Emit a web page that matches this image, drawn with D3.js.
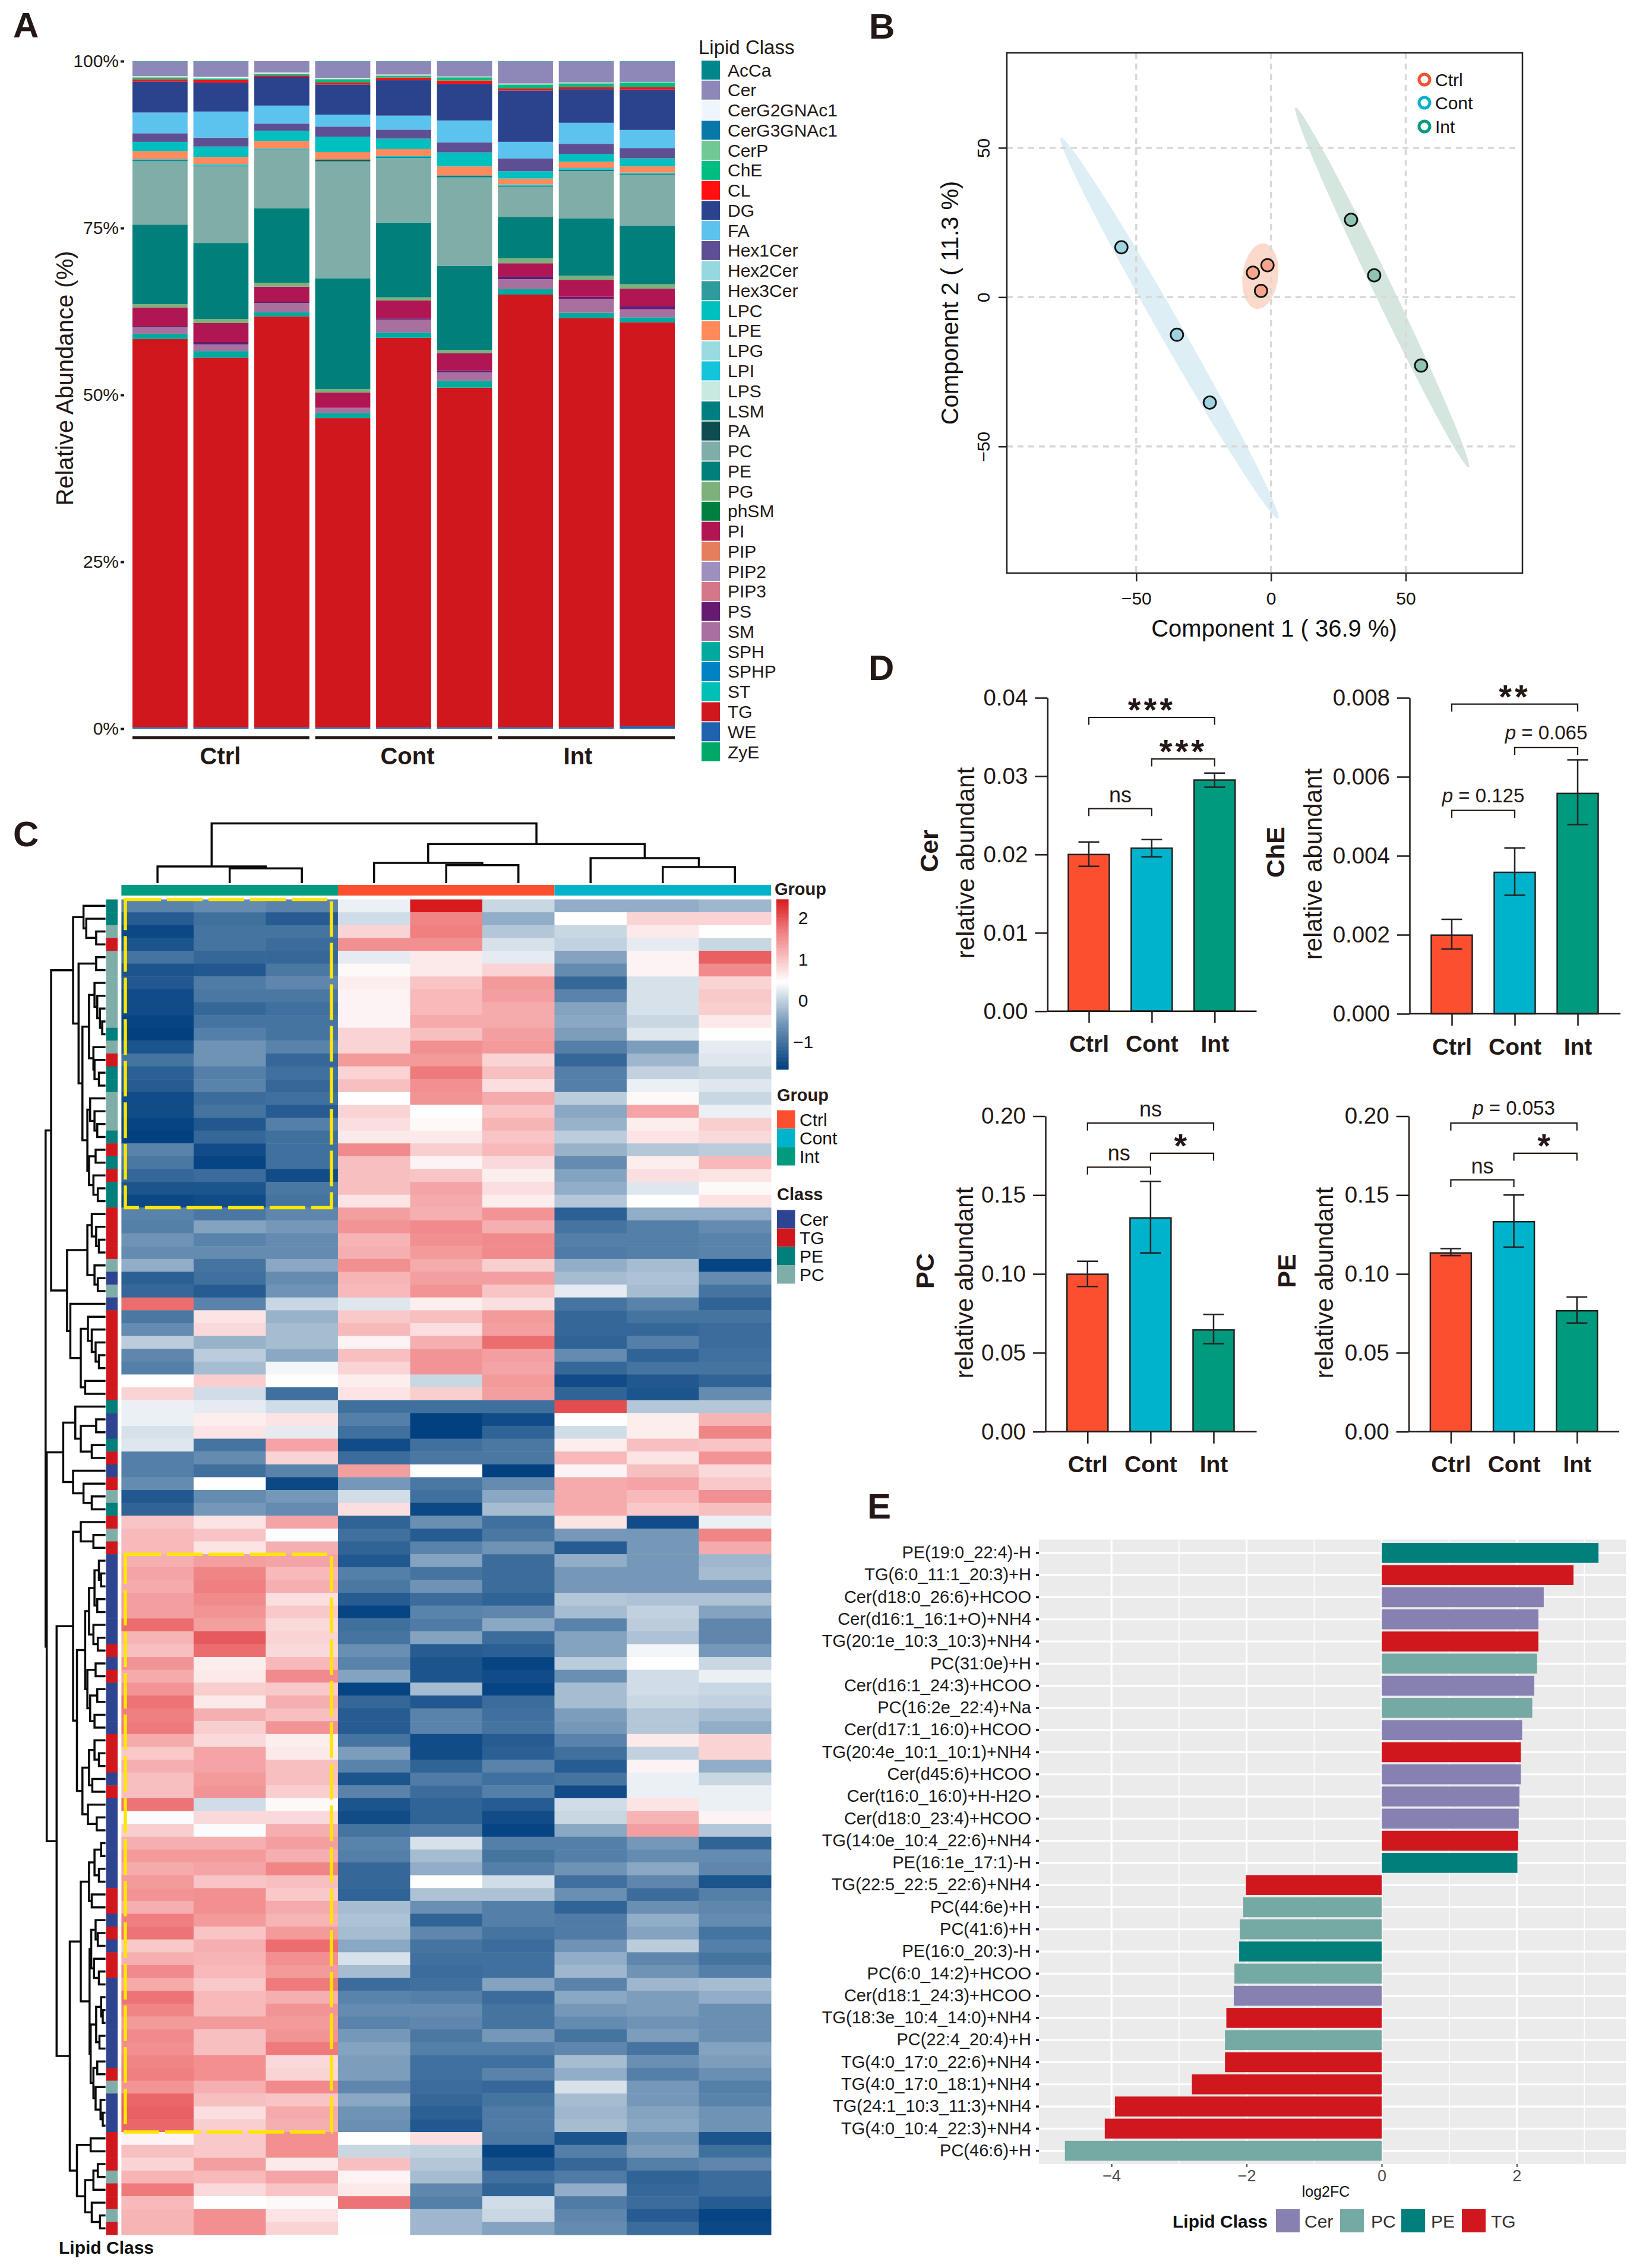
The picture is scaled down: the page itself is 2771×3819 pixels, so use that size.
<!DOCTYPE html>
<html>
<head>
  <meta charset="utf-8">
  <title>Lipidomics figure</title>
  <style>
    body { margin: 0; padding: 0; background-color: #fff; }
    svg { display: block; font-family: "Liberation Sans", Arial, sans-serif; }
  </style>
</head>
<body>
  <svg id="fig" width="2771" height="3819"></svg>
  <script src="https://d3js.org/d3.v7.min.js"></script>
  <script>
    var ink = "#231815";

    // ---- panel A data
    var sampleIds = ["C1", "C2", "C3", "K1", "K2", "K3", "I1", "I2", "I3"];
    var lipidClasses = ["AcCa", "Cer", "CerG2GNAc1", "CerG3GNAc1", "CerP", "ChE", "CL", "DG", "FA", "Hex1Cer", "Hex2Cer", "Hex3Cer", "LPC", "LPE", "LPG", "LPI", "LPS", "LSM", "PA", "PC", "PE", "PG", "phSM", "PI", "PIP", "PIP2", "PIP3", "PS", "SM", "SPH", "SPHP", "ST", "TG", "WE", "ZyE"];
    var lipidColors = ["#00868B", "#8E88B8", "#EEF5FC", "#0878A8", "#70C994", "#00BE82", "#FF1010", "#2A438C", "#5CC3EF", "#5E4F93", "#96D8E0", "#2E9C9C", "#00BFBF", "#FF8A5C", "#9ADBE0", "#14C4DA", "#C8E8E0", "#007F80", "#0E4D4F", "#7FADA8", "#007F7B", "#7CB17C", "#008040", "#B01652", "#E57E5E", "#9D90BF", "#D47788", "#661A70", "#A8709F", "#00AA9E", "#0083C4", "#00BFB5", "#CF171D", "#1F63AF", "#00A968"];
    // one line per lipid class, one value per sample (percent)
    var barPct = [
      [.05, .05, 0, .05, .05, .05, .05, .05, .05],
      [2.2, 2.3, 1.7, 2.5, 1.95, 2.25, 3.3, 3.15, 3.05],
      [.1, .2, .15, .1, .1, .1, .1, .1, .05],
      [0, 0, 0, 0, 0, 0, 0, 0, 0],
      [.1, .05, .05, .1, .1, .1, .1, .05, .05],
      [.25, .2, .25, .45, .25, .4, .55, .55, .7],
      [.35, .4, .25, .3, .4, .5, .3, .3, .35],
      [4.65, 4.35, 4.25, 4.5, 5.3, 5.5, 7.7, 5.05, 6.05],
      [3.1, 3.9, 2.7, 1.8, 2.1, 3.3, 2.5, 3.15, 2.7],
      [1.3, 1.35, 1.05, 1.5, 1.35, 1.5, 1.9, 1.5, 1.55],
      [0, 0, 0, 0, 0, 0, 0, 0, 0],
      [0, 0, 0, 0, 0, 0, 0, 0, 0],
      [1.4, 1.55, 1.55, 2.3, 1.55, 2.1, 1.1, 1.2, 1.2],
      [1.2, 1.1, 1.1, 1.1, 1.05, 1.35, .9, .95, .95],
      [0, 0, 0, 0, 0, 0, 0, 0, 0],
      [.15, .2, .1, 0, .2, 0, .2, .25, .2],
      [0, 0, 0, 0, 0, 0, 0, 0, 0],
      [.15, .1, .05, .1, .1, .3, .1, .2, .1],
      [0, 0, 0, .2, 0, 0, 0, 0, 0],
      [9.5, 11.5, 8.8, 17.5, 9.65, 13.3, 4.55, 7.1, 7.65],
      [11.9, 11.4, 11.15, 16.6, 11.2, 12.6, 6.2, 8.6, 8.75],
      [.5, .6, .6, .5, .45, .5, .75, .6, .65],
      [0, 0, 0, 0, 0, 0, 0, 0, 0],
      [2.8, 2.85, 2.25, 2.3, 2.7, 2.55, 1.95, 2.55, 2.6],
      [0, 0, 0, 0, 0, 0, 0, 0, 0],
      [0, 0, 0, 0, 0, 0, 0, 0, 0],
      [0, 0, 0, 0, 0, 0, 0, 0, 0],
      [.15, .35, .2, .05, .2, .3, .45, .3, .5],
      [1, 1, 1.4, .75, 1.9, 1.3, 1.5, 2.1, 1.2],
      [.8, 1, .6, .75, .8, 1, .8, .8, .75],
      [0, 0, 0, 0, 0, 0, 0, 0, 0],
      [0, 0, 0, 0, 0, 0, 0, 0, 0],
      [58.2, 55.4, 61.5, 46.3, 58.3, 51, 64.9, 61.4, 60.5],
      [.2, .2, .2, .2, .2, .2, .2, .2, .35],
      [0, 0, 0, 0, 0, 0, 0, 0, 0]
    ];
    var pctTicks = [0, 0.25, 0.5, 0.75, 1];

    // ---- shared groups
    var groups = ["Ctrl", "Cont", "Int"];
    var groupColors = ["#FC4F30", "#00B3CC", "#009A7E"];

    // ---- panel B data
    var pcaCtrl = [[-6.7, 8.2], [-1.3, 10.7], [-3.7, 2.1]];
    var pcaCont = [[-55.5, 16.7], [-34.9, -12.6], [-22.7, -35.3]];
    var pcaInt = [[29.7, 25.9], [38.3, 7.3], [55.7, -22.9]];
    var pcaTicks = [-50, 0, 50];
    var ellipseTips = [[[-2.5, 18], [-5.4, -3.9]], [[-78, 53.4], [2.7, -74.2]], [[9.1, 63.5], [73.4, -57]]];
    var ellipseFill = ["#FBDACB", "#DDEEF5", "#D5E6DF"];
    var pointFill = ["#F7A58A", "#A0D3E0", "#8FC4B4"];

    // ---- panel C data (columns: Int, Ctrl, Cont)
    var heatGroups = ["Int", "Ctrl", "Cont"];
    var heatRows = [
      [-.8, -.7, -.8, .3, 2.45, .05, -.35, -.35, -.25],
      [-1.3, -1.05, -1.3, .1, 1.6, -.35, .45, .85, .85],
      [-1.55, -1, -1, .85, 1.65, -.1, .05, .65, .45],
      [-1.4, -1, -1.1, 1.5, 1.5, .15, 0, .25, .05],
      [-1, -1.15, -1.15, .25, .65, .25, -.45, .55, 1.9],
      [-1.4, -1.35, -.95, .5, .65, .85, -.7, .55, 1.55],
      [-1.35, -.9, -.75, .6, 1, 1.4, -1.15, .15, .85],
      [-1.5, -.95, -.95, .55, 1.1, 1.35, -.8, .15, .95],
      [-1.5, -1.15, -1.05, .55, 1.1, 1.25, -.45, .15, .9],
      [-1.6, -1, -1, .55, 1.25, 1.25, -.4, .05, .65],
      [-1.65, -.85, -1, .85, 1.05, 1.35, -.5, .2, .45],
      [-1.4, -.6, -.8, .85, 1.5, 1.4, -.85, -.5, .25],
      [-1, -.6, -1.15, 1.4, 1.4, .85, -1.15, -.25, .2],
      [-1.25, -.85, -1.05, .85, 1.7, 1.05, -.85, 0, .05],
      [-1.3, -.8, -1.15, 1.05, 1.5, .75, -.85, .3, .2],
      [-1.5, -1.1, -1.05, .45, 1.45, 1.25, -.05, .5, .05],
      [-1.5, -1, -1.3, .85, .45, 1, -.4, 1.3, .3],
      [-1.6, -1.35, -.85, .75, .5, 1.15, -.3, .6, .9],
      [-1.65, -1.15, -1.05, .65, .65, 1, -.05, .7, .8],
      [-.8, -1.5, -1.05, 1.55, .9, 1.1, -.3, -.1, -.05],
      [-.95, -1.6, -1.05, 1.05, .55, .8, -.7, .6, 1.1],
      [-1.15, -1.1, -1.5, 1.05, 1, .6, -.45, .75, .7],
      [-1.4, -1.4, -.95, 1.05, 1.3, .75, -.35, .2, .5],
      [-1.55, -1.5, -1, .7, 1.25, .6, -.1, .45, .7],
      [-.8, -.95, -.75, 1.35, 1.2, 1.45, -1.25, -.35, -.35],
      [-.85, -.45, -.55, 1.45, 1.55, 1.2, -1, -.85, -.7],
      [-.6, -.8, -.7, 1.15, 1.5, 1.55, -.85, -.85, -.8],
      [-.7, -.7, -.7, 1.2, 1.4, 1.55, -.9, -.85, -.8],
      [-.35, -1, -.4, 1.5, 1.25, .9, -.35, -.2, -1.6],
      [-1.25, -1.05, -.7, 1.15, 1.35, 1.35, -.2, -.15, -.7],
      [-1.15, -1.3, -.6, 1.1, 1.45, 1, .25, -.2, -1],
      [1.8, -.8, .05, .2, .6, .75, -1, -.8, -1.2],
      [-.95, .7, -.3, .95, 1.05, 1.4, -1.15, -1, -1],
      [-.7, .8, -.2, 1.1, .75, 1.35, -1.15, -1.15, -1.1],
      [-.05, -.3, -.2, .55, 1.2, 1.8, -1.2, -.85, -1.1],
      [-.75, -.05, -.4, 1.05, 1.45, 1.35, -.7, -1.2, -1.05],
      [-.85, -.2, .35, .85, 1.45, 1.3, -1.15, -1, -1],
      [.45, .9, .45, .6, .05, 1.4, -1.5, -1.35, -1.2],
      [.85, .1, -1.05, .7, .9, 1.35, -1.2, -1.4, -.7],
      [.3, .25, .1, -1.05, -1.05, -1.05, 2.05, -.1, -.1],
      [.3, .6, .7, -.85, -1.65, -1.5, .45, .6, 1.15],
      [.15, .7, .25, -1.05, -1.65, -1.2, .1, .6, 1.6],
      [.2, -1, 1.3, -1.5, -1.05, -.95, .6, 1.05, 1],
      [-.85, -.7, .85, -1.1, -.95, -.95, 1.1, .7, 1.45],
      [-.85, -1.05, -.8, 1.35, .45, -1.65, .55, 1.05, .8],
      [-.7, .45, -1.55, -.55, -.95, -.7, 1.25, 1.3, .95],
      [-1.35, -.7, -.55, .1, -1.05, -.4, 1.25, 1.1, 1.5],
      [-1.2, -.55, -.7, .75, -1.55, -.2, 1.25, .95, 1.05],
      [1, .7, 1.3, -1.2, -.65, -1.05, .7, -1.5, .3],
      [1.1, 1, .45, -1.05, -1.3, -.95, -.55, -.55, 1.6],
      [1.1, .7, 1.2, -1.2, -.8, -.6, -1.3, -.55, 1.25],
      [1.2, 1.35, 1.3, -1.35, -.45, -1.1, -.35, -.55, -.25],
      [1.3, 1.6, 1.1, -.85, -1, -1.1, -.55, -.55, -.2],
      [1.25, 1.65, 1.2, -.95, -.6, -1.1, -.55, -.55, -.55],
      [1.35, 1.55, .75, -1.3, -1.1, -1.2, -.1, -.15, -.15],
      [1.35, 1.45, .95, -1.6, -.8, -.75, -.2, 0, -.45],
      [1.8, 1.35, .8, -1.05, -.9, -.4, -.8, -.05, -.75],
      [1.15, 1.95, .85, -1, -.45, -1.1, -.45, -.15, -.75],
      [1.05, 1.8, .8, -.65, -1.3, -1.25, -.45, .35, -.55],
      [1.45, .6, 1.1, -.8, -1.4, -1.6, -.05, .45, .05],
      [1.25, .65, 1.55, -.45, -1.4, -1.5, -.65, .1, .3],
      [1.45, .9, .95, -1.6, -.2, -1.6, -.2, .1, .05],
      [1.75, .65, 1.2, -1.15, -1.35, -1.1, -.2, .05, 0],
      [1.65, 1.2, 1.05, -1.3, -.8, -1.05, -.5, -.1, -.2],
      [1.7, .9, 1.45, -1.3, -.8, -1, -.55, -.1, -.35],
      [1.25, .8, .6, -1, -1.5, -1.3, -.8, .65, .85],
      [.95, 1.3, .65, -.5, -1.5, -1.25, -1.05, 0, .85],
      [1.2, 1.3, 1.05, -.8, -1.2, -.8, -1.3, .55, -.35],
      [1.05, 1.4, 1.05, -1.4, -.9, -1.05, -1, .3, .05],
      [1.05, 1.45, .9, -.8, -1.1, -.85, -1.5, .3, .3],
      [1.75, .1, .5, -1.4, -1.2, -1.3, .1, .7, .3],
      [.4, .8, .8, -1.5, -1.2, -1.5, .05, 1.15, .55],
      [.9, .4, 1.2, -1, -.9, -1.6, -.4, 1.35, -.1],
      [1.2, 1.2, 1.35, -.8, .15, -.85, -.85, -.55, -1.2],
      [1.4, 1.4, 1.2, -.85, -.2, -1, -.85, -.7, -.7],
      [1.25, 1.3, 1.6, -1.15, -.35, -.85, -.6, -.4, -.75],
      [1.4, 1, 1.05, -1.15, .45, .1, -1.05, -.75, -1.4],
      [1.45, 1.5, .95, -1.2, -.15, -.15, -.65, -1.1, -.85],
      [1.2, 1.5, 1.25, -.2, -.65, -.85, -1.2, -.65, -.75],
      [1.65, 1.4, 1.15, -.15, -1.2, -.85, -.9, -.35, -.7],
      [1.75, 1, 1.4, -.2, -.75, -1, -.9, -.45, -1],
      [.95, 1.2, 1.8, -.4, -1, -1.1, -.6, -.05, -.85],
      [1.2, 1.15, 1.5, .15, -1.05, -1.05, -.35, -.75, -1],
      [1.55, 1.1, 1.4, -.2, -1.1, -1.05, -.25, -.6, -.85],
      [1.25, .95, 1.7, -1.1, -1.05, -.45, -.8, -.25, -.2],
      [1.75, 1.1, 1.2, -.8, -.85, -1.1, -.4, -.5, -.35],
      [1.6, 1.1, 1.45, -.7, -.7, -1, -.55, -.5, -.65],
      [1.4, 1.4, 1.4, -.8, -.75, -1, -.7, -.6, -.65],
      [1.55, 1.05, 1.45, -.55, -.95, -.55, -1, -.5, -.65],
      [1.5, 1.05, 1.7, -.45, -.85, -.85, -.75, -1, -.45],
      [1.6, 1.5, .8, -.5, -1.05, -1.05, -.2, -.65, -.5],
      [1.65, 1.5, .85, -.5, -1.05, -.8, -.35, -.85, -.65],
      [1.45, 1.2, 1.55, -.75, -1.1, -1.15, .15, -.55, -.85],
      [1.85, 1.05, 1, -.4, -1.15, -1, -.2, -.55, -.8],
      [1.9, .75, 1.25, -.6, -1.25, -.9, -.25, -.45, -.6],
      [1.85, .9, 1.2, -.65, -1.35, -.9, -.2, -.4, -.6],
      [.55, .95, 1.5, .45, .75, -.95, -1.4, -.6, -1.4],
      [1.05, .95, 1.5, .05, 0, -1.6, -.85, -.5, -1.05],
      [.85, 1.35, .65, 1.05, -.1, -1.4, -1.15, -.85, -.75],
      [1.15, 1.1, 1.3, .55, -.2, -1.05, -.9, -1.2, -1.1],
      [1.7, .8, 1, .65, -.75, -1.2, -.35, -1.15, -1.1],
      [1.1, .45, .5, 1.75, -.85, .1, -.9, -1.1, -1.3],
      [1.15, 1.5, .7, .45, -.25, .05, -.75, -1.3, -1.6],
      [1.15, 1.5, .85, .45, -.25, -.45, -.7, -1.1, -1.55]
    ];
    var rowClass = ["PE", "PE", "PC", "TG", "PC", "PC", "PC", "PC", "PC", "PC", "PE", "PC", "TG", "PE", "PE", "PC", "PC", "PC", "PE", "TG", "PE", "TG", "PE", "PE", "TG", "TG", "TG", "TG", "PC", "Cer", "PC", "Cer",
      "TG", "TG", "TG", "TG", "TG", "TG", "TG", "PE", "Cer", "Cer", "PE", "TG", "Cer", "TG", "PC", "PE", "TG", "PC", "TG", "Cer", "Cer", "Cer", "Cer", "Cer", "Cer", "Cer", "TG", "Cer", "TG", "Cer", "Cer", "Cer", "Cer", "TG", "TG", "TG", "Cer", "TG",
      "Cer", "Cer", "Cer", "Cer", "Cer", "Cer", "Cer", "TG", "TG", "Cer", "TG", "Cer", "TG", "TG", "Cer", "Cer", "Cer", "Cer", "Cer", "Cer", "Cer", "TG", "PC", "Cer", "Cer", "Cer", "TG", "TG", "TG", "PC", "TG", "TG", "PC", "TG"];
    var heatClasses = ["Cer", "TG", "PE", "PC"];
    var heatClassColors = ["#2E4490", "#CF171D", "#007F7B", "#7FADA8"];
    var heatTicks = [2, 1, 0, -1];
    // dendrograms: [height, child, child], 0 is a leaf
    var colTree = [186, [52, 0, [46, 0, 0]], [122, [63, 0, [56, 0, 0]], [78, 0, [50, 0, 0]]]];
    var rowTree = [109,
      [99,
        [59,
          [40, 0, [35, 0, [17, 0, 0]]],
          [49,
            [17, 0, 0],
            [42,
              [30, [20, 0, [15, 0, [10, 0, [6, 0, 0]]]], [22, 0, [20, 0, [12, 0, 0]]]],
              [33, [28, 0, [20, 0, [15, 0, 0]]], [30, [18, 0, 0], [22, 0, [14, 0, 0]]]]]]],
        [70,
          [33, [25, 0, [17, 0, [12, 0, 0]]], [20, 0, [14, 0, 0]]],
          [64, 0, [45, [32, 0, [25, 0, [18, 0, [12, 0, 0]]]], [37, 0, 0]]]]],
      [107,
        [77,
          [55, 0, [45, [17, 0, 0], [25, 0, 0]]],
          [59, 0, [40, 0, [25, 0, 0]]]],
        [89,
          [59,
            [45, 0, [22, 0, 0]],
            [52,
              [37,
                [30, [20, [12, 0, [8, 0, 0]], [15, 0, 0]], [22, 0, [14, 0, 0]]],
                [33, [18, 0, 0], [28, [15, 0, 0], [20, 0, 0]]]],
              [42,
                [30, [20, 0, [12, 0, 0]], [24, 0, 0]],
                [32, 0, [16, 0, 0]]]]],
          [65,
            [45,
              [30, [20, [8, 0, 0], [12, 0, 0]], [25, 0, 0]],
              [29,
                [26, [18, 0, [14, 0, 0]], [21, 0, [12, 0, 0]]],
                [27, [17, [8, 0, [5, 0, 0]], [11, 0, 0]], [22, [15, 0, 0], [18, 0, [9, 0, [5, 0, 0]]]]]]],
            [52,
              [27, 0, 0],
              [37, [22, [14, 0, 0], 0], [25, 0, [10, 0, 0]]]]]]]];

    // ---- panel D data
    var cerMeans = [0.0200, 0.0208, 0.0295];
    var cerLow = [0.0185, 0.0197, 0.0286];
    var cerHigh = [0.0216, 0.0219, 0.0304];
    var cerTicks = [0, 0.01, 0.02, 0.03, 0.04];
    var cerBrackets = [[0, 2, 0.0375, "***"], [1, 2, 0.0322, "***"], [0, 1, 0.02585, "ns"]];
    var cheMeans = [0.00199, 0.00358, 0.00558];
    var cheLow = [0.00164, 0.0030, 0.00479];
    var cheHigh = [0.00239, 0.0042, 0.00643];
    var cheTicks = [0, 0.002, 0.004, 0.006, 0.008];
    var cheBrackets = [[0, 2, 0.00784, "**"], [1, 2, 0.00674, "0.065"], [0, 1, 0.00515, "0.125"]];
    var pcMeans = [0.0998, 0.1355, 0.0645];
    var pcLow = [0.092, 0.1133, 0.0558];
    var pcHigh = [0.108, 0.1587, 0.0743];
    var pcTicks = [0, 0.05, 0.1, 0.15, 0.2];
    var pcBrackets = [[0, 2, 0.1956, "ns"], [1, 2, 0.1765, "*"], [0, 1, 0.1677, "ns"]];
    var peMeans = [0.1133, 0.1331, 0.0766];
    var peLow = [0.1116, 0.117, 0.0689];
    var peHigh = [0.116, 0.15, 0.0854];
    var peBrackets = [[0, 2, 0.1956, "0.053"], [1, 2, 0.1765, "*"], [0, 1, 0.1597, "ns"]];

    // ---- panel E data
    var fcLabels = ["PE(19:0_22:4)-H", "TG(6:0_11:1_20:3)+H", "Cer(d18:0_26:6)+HCOO", "Cer(d16:1_16:1+O)+NH4", "TG(20:1e_10:3_10:3)+NH4", "PC(31:0e)+H", "Cer(d16:1_24:3)+HCOO", "PC(16:2e_22:4)+Na", "Cer(d17:1_16:0)+HCOO", "TG(20:4e_10:1_10:1)+NH4", "Cer(d45:6)+HCOO", "Cer(t16:0_16:0)+H-H2O", "Cer(d18:0_23:4)+HCOO", "TG(14:0e_10:4_22:6)+NH4", "PE(16:1e_17:1)-H", "TG(22:5_22:5_22:6)+NH4", "PC(44:6e)+H", "PC(41:6)+H", "PE(16:0_20:3)-H", "PC(6:0_14:2)+HCOO", "Cer(d18:1_24:3)+HCOO", "TG(18:3e_10:4_14:0)+NH4", "PC(22:4_20:4)+H", "TG(4:0_17:0_22:6)+NH4", "TG(4:0_17:0_18:1)+NH4", "TG(24:1_10:3_11:3)+NH4", "TG(4:0_10:4_22:3)+NH4", "PC(46:6)+H"];
    var fcValues = [3.21, 2.84, 2.40, 2.32, 2.32, 2.30, 2.26, 2.23, 2.08, 2.06, 2.06, 2.04, 2.03, 2.02, 2.01, -2.01, -2.05, -2.10, -2.11, -2.18, -2.19, -2.30, -2.32, -2.32, -2.81, -3.95, -4.10, -4.69];
    var fcClasses = fcLabels.map(function (d) { return d.slice(0, d.indexOf("(")); });
    var fcLegend = ["Cer", "PC", "PE", "TG"];
    var fcColors = ["#8781B2", "#75A9A4", "#007F7B", "#CF171D"];
    var fcMajor = [-4, -2, 0, 2];
    var fcMinor = [-3, -1, 1, 3];

    var svg = d3.select("#fig");

    function label(parent, x, y, str, size, opts) {
      opts = opts || {};
      var t = parent.append("text")
        .attr("x", x)
        .attr("y", y)
        .attr("font-size", size)
        .attr("fill", opts.fill || ink)
        .attr("font-weight", opts.bold ? "bold" : "normal")
        .attr("text-anchor", opts.anchor || "start")
        .attr("dy", opts.dy === undefined ? "0.35em" : opts.dy)
        .text(str);
      if (opts.rotate) t.attr("transform", "rotate(" + opts.rotate + "," + x + "," + y + ")");
      return t;
    }

    // panel letters
    [["A", 22, 63], ["B", 1463, 65], ["C", 22, 1425], ["D", 1462, 1145], ["E", 1460, 2557]].forEach(function (d) {
      label(svg, d[1], d[2], d[0], 60, { bold: true, dy: 0 });
    });

    // ---------- A: stacked bars
    function drawStack() {
      var g = svg.append("g");
      var x = d3.scaleBand().domain(sampleIds).range([223, 1136]).paddingInner(0.095);
      var y = d3.scaleLinear().domain([0, 1]).range([1227, 103]);
      var table = sampleIds.map(function (id, i) {
        var row = { id: id };
        lipidClasses.forEach(function (c, k) { row[c] = barPct[k][i]; });
        return row;
      });
      var color = d3.scaleOrdinal(lipidClasses, lipidColors);
      var layers = d3.stack().keys(lipidClasses.slice().reverse()).offset(d3.stackOffsetExpand)(table);

      g.selectAll("g.layer").data(layers).enter().append("g")
        .attr("fill", function (d) { return color(d.key); })
        .selectAll("rect").data(function (d) { return d; }).enter().append("rect")
        .attr("x", function (d) { return x(d.data.id); })
        .attr("width", x.bandwidth())
        .attr("y", function (d) { return y(d[1]); })
        .attr("height", function (d) { return y(d[0]) - y(d[1]); });

      var axis = g.append("g").attr("transform", "translate(209,0)")
        .call(d3.axisLeft(y).tickValues(pctTicks).tickFormat(d3.format(".0%")).tickSize(6).tickPadding(3).tickSizeOuter(0));
      axis.select(".domain").remove();
      axis.selectAll("line").attr("stroke", ink).attr("stroke-width", 4);
      axis.selectAll("text").attr("font-size", 30).attr("font-family", "Liberation Sans").attr("fill", ink);

      label(g, 109, 637, "Relative Abundance (%)", 40, { anchor: "middle", rotate: -90 });

      // group underlines
      groups.forEach(function (name, i) {
        var first = sampleIds[i * 3], last = sampleIds[i * 3 + 2];
        g.append("line")
          .attr("x1", x(first)).attr("x2", x(last) + x.bandwidth())
          .attr("y1", 1242).attr("y2", 1242)
          .attr("stroke", ink).attr("stroke-width", 5);
      });
      label(g, 371, 1273, "Ctrl", 40, { bold: true, anchor: "middle" });
      label(g, 686, 1273, "Cont", 40, { bold: true, anchor: "middle" });
      label(g, 973, 1273, "Int", 40, { bold: true, anchor: "middle" });

      // legend
      label(g, 1176, 79, "Lipid Class", 33);
      var ly = d3.scalePoint().domain(lipidClasses).range([118, 1266]);
      var items = g.selectAll("g.item").data(lipidClasses).enter().append("g")
        .attr("transform", function (d) { return "translate(0," + ly(d) + ")"; });
      items.append("rect").attr("x", 1181).attr("y", -16).attr("width", 31).attr("height", 32)
        .attr("fill", function (d) { return color(d); });
      items.append("text").attr("x", 1225).attr("dy", "0.35em").attr("font-size", 30).attr("fill", ink)
        .text(function (d) { return d; });
    }

    // ---------- B: PCA scatter
    function drawPca() {
      var g = svg.append("g");
      var left = 1695, right = 2563, top = 89, bottom = 965;
      var x = d3.scaleLinear().domain([-98, 93.3]).range([left, right]);
      var y = d3.scaleLinear().domain([-92.4, 81.8]).range([bottom, top]);

      ellipseTips.forEach(function (tips, i) {
        var ax = x(tips[0][0]), ay = y(tips[0][1]), bx = x(tips[1][0]), by = y(tips[1][1]);
        var half = Math.hypot(bx - ax, by - ay) / 2;
        var angle = Math.atan2(by - ay, bx - ax) * 180 / Math.PI;
        g.append("ellipse")
          .attr("cx", (ax + bx) / 2).attr("cy", (ay + by) / 2)
          .attr("rx", half).attr("ry", [30, 19, 16][i])
          .attr("transform", "rotate(" + angle + "," + (ax + bx) / 2 + "," + (ay + by) / 2 + ")")
          .attr("fill", ellipseFill[i]);
      });

      pcaTicks.forEach(function (t) {
        g.append("line").attr("x1", x(t)).attr("x2", x(t)).attr("y1", top).attr("y2", bottom);
        g.append("line").attr("x1", left).attr("x2", right - 8).attr("y1", y(t)).attr("y2", y(t));
      });
      g.selectAll("line").attr("stroke", "#D8D8D8").attr("stroke-width", 3.5).attr("stroke-dasharray", "10,8");

      [pcaCtrl, pcaCont, pcaInt].forEach(function (pts, i) {
        g.selectAll("circle.g" + i).data(pts).enter().append("circle")
          .attr("class", "g" + i)
          .attr("cx", function (d) { return x(d[0]); })
          .attr("cy", function (d) { return y(d[1]); })
          .attr("r", 10.5)
          .attr("fill", pointFill[i])
          .attr("stroke", "#111")
          .attr("stroke-width", 2.8);
      });

      g.append("rect").attr("x", left).attr("y", top).attr("width", right - left).attr("height", bottom - top)
        .attr("fill", "none").attr("stroke", "#222").attr("stroke-width", 2.5);

      var ax = g.append("g").attr("transform", "translate(0," + bottom + ")")
        .call(d3.axisBottom(x).tickValues(pcaTicks).tickFormat(d3.format("d")).tickSize(14).tickPadding(18).tickSizeOuter(0));
      var ay = g.append("g").attr("transform", "translate(" + left + ",0)")
        .call(d3.axisLeft(y).tickValues(pcaTicks).tickFormat(d3.format("d")).tickSize(14).tickSizeOuter(0));
      [ax, ay].forEach(function (a) {
        a.select(".domain").remove();
        a.selectAll("line").attr("stroke", "#222").attr("stroke-width", 2.5).attr("stroke-dasharray", null);
        a.selectAll("text").attr("font-size", 30).attr("font-family", "Liberation Sans").attr("fill", "#111");
      });
      ay.selectAll("text")
        .attr("x", 0).attr("dy", 0)
        .attr("text-anchor", "middle")
        .attr("transform", "translate(-29,0) rotate(-90)");

      label(g, 2145, 1058, "Component 1 ( 36.9 %)", 40, { anchor: "middle", fill: "#111" });
      label(g, 1599, 510, "Component 2 ( 11.3 %)", 40, { anchor: "middle", rotate: -90, fill: "#111" });

      groups.forEach(function (name, i) {
        var ly = [134, 173, 213][i];
        g.append("circle").attr("cx", 2398).attr("cy", ly).attr("r", 9)
          .attr("fill", "#fff").attr("stroke", ["#F4512F", "#00B2CA", "#009B80"][i]).attr("stroke-width", 5);
        label(g, 2416, ly, name, 30, { fill: "#111" });
      });
    }

    // ---------- C: heatmap
    function drawHeat() {
      var g = svg.append("g");
      var rows = d3.range(heatRows.length);
      var cols = d3.range(9);
      var x = d3.scaleBand().domain(cols).range([204.4, 1298]);
      var y = d3.scaleBand().domain(rows).range([1514.5, 3763]);
      var color = d3.scaleLinear().domain([-1.67, -0.6, 0.44, 1.7, 2.45])
        .range(["#003F7F", "#6E93B5", "#FFFFFF", "#EF7A7C", "#D71A1C"]);
      var classColor = d3.scaleOrdinal(heatClasses, heatClassColors);
      var groupColor = d3.scaleOrdinal(groups, groupColors);

      // cells
      rows.forEach(function (r) {
        g.selectAll("rect.r" + r).data(heatRows[r]).enter().append("rect")
          .attr("class", "r" + r)
          .attr("x", function (d, c) { return x(c); })
          .attr("y", y(r))
          .attr("width", x.bandwidth() + 0.5)
          .attr("height", y.bandwidth() + 0.5)
          .attr("fill", function (d) { return color(d); });
      });

      // annotations
      g.selectAll("rect.ann").data(rowClass).enter().append("rect")
        .attr("class", "ann")
        .attr("x", 178.5).attr("width", 19.5)
        .attr("y", function (d, i) { return y(i); })
        .attr("height", y.bandwidth() + 0.5)
        .attr("fill", function (d) { return classColor(d); });
      heatGroups.forEach(function (name, i) {
        g.append("rect")
          .attr("x", x(i * 3)).attr("y", 1490)
          .attr("width", x.bandwidth() * 3).attr("height", 18)
          .attr("fill", groupColor(name));
      });

      // yellow boxes
      [[0, 24], [51, 96]].forEach(function (span) {
        g.append("rect")
          .attr("x", 211).attr("width", 347)
          .attr("y", y(span[0])).attr("height", y(span[1] - 1) + y.bandwidth() - y(span[0]))
          .attr("fill", "none").attr("stroke", "#FFE600").attr("stroke-width", 5.5)
          .attr("stroke-dasharray", "60,10");
      });

      // dendrograms
      function drawTree(tree, leafPos, heightPos, horizontal) {
        var root = d3.hierarchy(tree, function (d) { return Array.isArray(d) ? d.slice(1) : null; });
        var leafIdx = 0;
        root.eachAfter(function (n) {
          if (!n.children) {
            n.pos = leafPos(leafIdx++);
            n.h = 0;
          } else {
            n.pos = (n.children[0].pos + n.children[1].pos) / 2;
            n.h = n.data[0];
          }
        });
        var path = d3.path();
        root.each(function (n) {
          if (!n.children) return;
          var a = n.children[0], b = n.children[1], ph = heightPos(n.h);
          if (horizontal) {
            path.moveTo(a.pos, heightPos(a.h)); path.lineTo(a.pos, ph);
            path.lineTo(b.pos, ph); path.lineTo(b.pos, heightPos(b.h));
          } else {
            path.moveTo(heightPos(a.h), a.pos); path.lineTo(ph, a.pos);
            path.lineTo(ph, b.pos); path.lineTo(heightPos(b.h), b.pos);
          }
        });
        g.append("path").attr("d", path.toString())
          .attr("fill", "none").attr("stroke", "#0A0A0A").attr("stroke-width", 3.5);
      }
      drawTree(colTree,
        function (i) { return x(i) + x.bandwidth() / 2; },
        d3.scaleLinear().domain([0, 186]).range([1487, 1386.6]), true);
      drawTree(rowTree,
        function (i) { return y(i) + y.bandwidth() / 2; },
        d3.scaleLinear().domain([0, 109]).range([177.6, 76.8]), false);

      // colour bar
      var barY = d3.scaleLinear().domain([2.45, -1.67]).range([1514.5, 1800.7]);
      var steps = d3.range(-1.67, 2.45, 0.02);
      g.selectAll("rect.cb").data(steps).enter().append("rect")
        .attr("class", "cb")
        .attr("x", 1307).attr("width", 20.5)
        .attr("y", function (d) { return barY(d) - 1.6; })
        .attr("height", 2)
        .attr("fill", function (d) { return color(d); });
      heatTicks.forEach(function (t) {
        label(g, 1352, barY(t), t < 0 ? "\u2212" + (-t) : String(t), 30, { anchor: "middle", fill: "#111" });
      });

      // legends
      label(g, 1304, 1497, "Group", 29, { bold: true });
      label(g, 1308, 1844, "Group", 29, { bold: true });
      groups.forEach(function (name, i) {
        var cy = 1885 + i * 31;
        g.append("rect").attr("x", 1308).attr("y", cy - 15.5).attr("width", 30.5).attr("height", 31).attr("fill", groupColor(name));
        label(g, 1346, cy, name, 30, { fill: "#111" });
      });
      label(g, 1308, 2011, "Class", 29, { bold: true });
      heatClasses.forEach(function (name, i) {
        var cy = 2053 + i * 31;
        g.append("rect").attr("x", 1308).attr("y", cy - 15.5).attr("width", 30.5).attr("height", 31).attr("fill", classColor(name));
        label(g, 1346, cy, name, 30, { fill: "#111" });
      });
      label(g, 99, 3784, "Lipid Class", 30, { bold: true, fill: "#111" });
    }

    // ---------- D: bar panels
    function drawBars(p) {
      var g = svg.append("g");
      var y = d3.scaleLinear().domain([0, p.max]).range([p.zero, p.top]);
      var x = d3.scalePoint().domain(groups).range(p.centers);
      var barW = 69;

      g.selectAll("rect.bar").data(p.means).enter().append("rect")
        .attr("class", "bar")
        .attr("x", function (d, i) { return x(groups[i]) - barW / 2; })
        .attr("width", barW)
        .attr("y", function (d) { return y(d); })
        .attr("height", function (d) { return p.zero - y(d); })
        .attr("fill", function (d, i) { return groupColors[i]; })
        .attr("stroke", "#222").attr("stroke-width", 2.5);

      p.means.forEach(function (m, i) {
        var cx = x(groups[i]);
        g.append("path")
          .attr("d", "M" + (cx - 17.5) + "," + y(p.high[i]) + "H" + (cx + 17.5) +
            "M" + cx + "," + y(p.high[i]) + "V" + y(p.low[i]) +
            "M" + (cx - 17.5) + "," + y(p.low[i]) + "H" + (cx + 17.5))
          .attr("fill", "none").attr("stroke", "#222").attr("stroke-width", 2.5);
      });

      var ay = g.append("g").attr("transform", "translate(" + p.axisX + ",0)")
        .call(d3.axisLeft(y).tickValues(p.ticks).tickFormat(d3.format(p.fmt)).tickSize(21).tickPadding(12).tickSizeOuter(0));
      var ax = g.append("g").attr("transform", "translate(0," + p.zero + ")")
        .call(d3.axisBottom(x).tickSize(20).tickPadding(21).tickSizeOuter(0));
      ax.select(".domain").attr("d", "M" + p.axisX + ",0H" + p.axisEnd);
      [ax, ay].forEach(function (a) {
        a.select(".domain").attr("stroke", ink).attr("stroke-width", 2.5);
        a.selectAll("line").attr("stroke", ink).attr("stroke-width", 2.5);
        a.selectAll("text").attr("font-size", 38.5).attr("font-family", "Liberation Sans").attr("fill", ink);
      });
      ax.selectAll("text").attr("font-weight", "bold").attr("font-size", 39);

      label(g, p.titleX, p.titleY, p.name, 43, { bold: true, anchor: "middle", rotate: -90 });
      label(g, p.subX, p.subY, "relative abundant", 42, { anchor: "middle", rotate: -90 });

      // significance brackets
      p.brackets.forEach(function (b) {
        var x1 = x(groups[b[0]]), x2 = x(groups[b[1]]), by = y(b[2]);
        g.append("path")
          .attr("d", "M" + x1 + "," + (by + 12.5) + "V" + by + "H" + x2 + "V" + (by + 12.5))
          .attr("fill", "none").attr("stroke", ink).attr("stroke-width", 2.2);
        var mid = (x1 + x2) / 2;
        if (b[3] === "ns") {
          label(g, mid, by - 11, "ns", 36, { anchor: "middle", dy: 0 });
        } else if (b[3].charAt(0) === "*") {
          label(g, mid, by + 6, b[3], 56, { anchor: "middle", dy: 0, bold: true })
            .attr("letter-spacing", 5);
        } else {
          var t = label(g, mid, by - 14, "", 33, { anchor: "middle", dy: 0 });
          t.append("tspan").attr("font-style", "italic").text("p");
          t.append("tspan").text(" = " + b[3]);
        }
      });
    }

    // ---------- E: log2FC bars
    function drawFc() {
      var g = svg.append("g");
      var left = 1749, right = 2737, top = 2592.5, bottom = 3644;
      var x = d3.scaleLinear().domain([-5.075, 3.615]).range([left, right]);
      var y = d3.scaleBand().domain(fcLabels).range([top, bottom]).paddingInner(0.1).paddingOuter(0.15);
      var color = d3.scaleOrdinal(fcLegend, fcColors);

      g.append("rect").attr("x", left).attr("y", top).attr("width", right - left).attr("height", bottom - top).attr("fill", "#EBEBEB");
      fcMinor.forEach(function (t) {
        g.append("line").attr("x1", x(t)).attr("x2", x(t)).attr("y1", top).attr("y2", bottom).attr("stroke", "#fff").attr("stroke-width", 1.6);
      });
      fcMajor.forEach(function (t) {
        g.append("line").attr("x1", x(t)).attr("x2", x(t)).attr("y1", top).attr("y2", bottom).attr("stroke", "#fff").attr("stroke-width", 3.2);
      });
      fcLabels.forEach(function (l) {
        var cy = y(l) + y.bandwidth() / 2;
        g.append("line").attr("x1", left).attr("x2", right).attr("y1", cy).attr("y2", cy).attr("stroke", "#fff").attr("stroke-width", 3.2);
      });

      g.selectAll("rect.fc").data(fcValues).enter().append("rect")
        .attr("class", "fc")
        .attr("x", function (d) { return d < 0 ? x(d) : x(0); })
        .attr("width", function (d) { return Math.abs(x(d) - x(0)); })
        .attr("y", function (d, i) { return y(fcLabels[i]); })
        .attr("height", y.bandwidth())
        .attr("fill", function (d, i) { return color(fcClasses[i]); });

      var ay = g.append("g").attr("transform", "translate(" + left + ",0)")
        .call(d3.axisLeft(y).tickSize(5).tickPadding(8).tickSizeOuter(0));
      ay.select(".domain").remove();
      ay.selectAll("line").attr("stroke", ink).attr("stroke-width", 3.5);
      ay.selectAll("text").attr("font-size", 29).attr("font-family", "Liberation Sans").attr("fill", "#1a1a1a");

      var ax = g.append("g").attr("transform", "translate(0," + bottom + ")")
        .call(d3.axisBottom(x).tickValues(fcMajor).tickFormat(d3.format("d")).tickSize(5).tickPadding(5).tickSizeOuter(0));
      ax.select(".domain").remove();
      ax.selectAll("line").attr("stroke", "#444").attr("stroke-width", 2);
      ax.selectAll("text").attr("font-size", 27).attr("font-family", "Liberation Sans").attr("fill", "#4D4D4D");

      label(g, 2232, 3690, "log2FC", 25, { anchor: "middle", fill: "#111" });
      label(g, 1974, 3740, "Lipid Class", 30, { bold: true, fill: "#111" });
      fcLegend.forEach(function (name, i) {
        var sx = [2148, 2256, 2359, 2461][i];
        g.append("rect").attr("x", sx).attr("y", 3720).attr("width", 40).attr("height", 39).attr("fill", color(name));
        label(g, [2196, 2308, 2409, 2510][i], 3740, name, 30, { fill: "#333" });
      });
    }

    drawStack();
    drawPca();
    drawHeat();
    drawBars({ name: "Cer", means: cerMeans, low: cerLow, high: cerHigh, ticks: cerTicks, brackets: cerBrackets, max: 0.04, fmt: ".2f",
      axisX: 1763.4, axisEnd: 2115.5, zero: 1702.7, top: 1175, centers: [1833, 2044.8], titleX: 1564, titleY: 1433, subX: 1625, subY: 1453 });
    drawBars({ name: "ChE", means: cheMeans, low: cheLow, high: cheHigh, ticks: cheTicks, brackets: cheBrackets, max: 0.008, fmt: ".3f",
      axisX: 2373, axisEnd: 2728, zero: 1707, top: 1175, centers: [2444, 2656], titleX: 2147, titleY: 1435, subX: 2210, subY: 1455 });
    drawBars({ name: "PC", means: pcMeans, low: pcLow, high: pcHigh, ticks: pcTicks, brackets: pcBrackets, max: 0.2, fmt: ".2f",
      axisX: 1760, axisEnd: 2115.5, zero: 2410.7, top: 1879.5, centers: [1830.8, 2043], titleX: 1557, titleY: 2140, subX: 1623, subY: 2160 });
    drawBars({ name: "PE", means: peMeans, low: peLow, high: peHigh, ticks: pcTicks, brackets: peBrackets, max: 0.2, fmt: ".2f",
      axisX: 2371.6, axisEnd: 2726, zero: 2410.7, top: 1879.5, centers: [2442.4, 2654.7], titleX: 2166, titleY: 2140, subX: 2229, subY: 2160 });
    drawFc();
  </script>
</body>
</html>
